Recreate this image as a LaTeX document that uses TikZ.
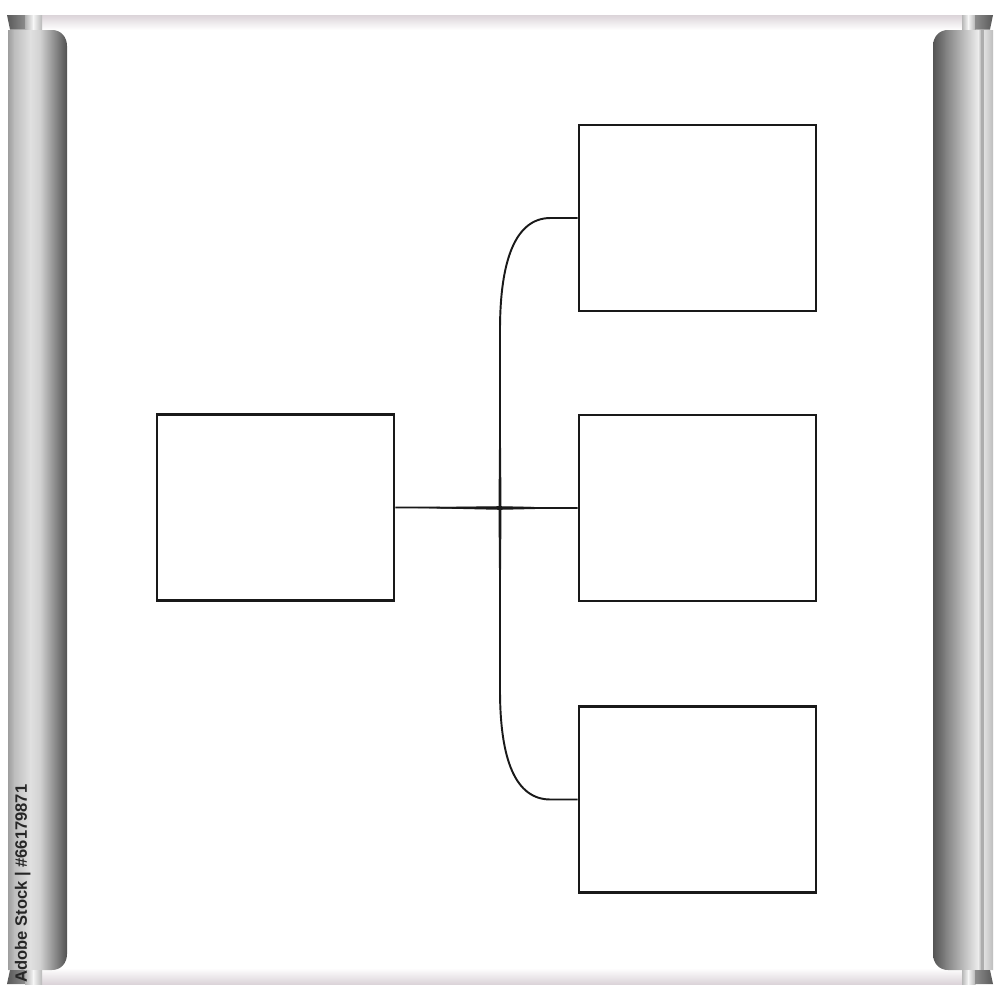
\documentclass[tikz,border=0pt]{standalone}
\usepackage{fontspec}
\newfontfamily\idfont{Liberation Sans}
\usetikzlibrary{calc}
\definecolor{sheetedge}{rgb}{0.86,0.83,0.85}
\begin{document}
\begin{tikzpicture}[x=0.01cm,y=-0.01cm,
  flowbox/.style={draw=black!90, line width=0.8pt, fill=white, minimum width=2.37cm, minimum height=1.86cm, inner sep=0pt},
  link/.style={line width=0.55pt, draw=black!90},
  strip/.style={draw=none}]
\fill[white] (0,0) rectangle (1000,1000);
\useasboundingbox (0,0) rectangle (1000,1000);

% sheet edges
\shade[top color=sheetedge, bottom color=white] (40,15) rectangle (962,30);
\shade[top color=white, bottom color=sheetedge] (40,968) rectangle (962,984);

% left roller
\begin{scope}
\clip (8,30) -- (52,30) .. controls (61,30) and (67,37) .. (67,46) -- (67,954) .. controls (67,963) and (61,970) .. (52,970) -- (8,970) -- cycle;
\shade[left color={rgb,1:red,0.62;green,0.62;blue,0.62}, right color={rgb,1:red,0.74;green,0.74;blue,0.74}] (8,30) rectangle (14.5,970);
\shade[left color={rgb,1:red,0.74;green,0.74;blue,0.74}, right color={rgb,1:red,0.88;green,0.88;blue,0.88}] (14,30) rectangle (30.5,970);
\shade[left color={rgb,1:red,0.88;green,0.88;blue,0.88}, right color={rgb,1:red,0.82;green,0.82;blue,0.82}] (30,30) rectangle (40.5,970);
\shade[left color={rgb,1:red,0.82;green,0.82;blue,0.82}, right color={rgb,1:red,0.32;green,0.32;blue,0.32}] (40,30) rectangle (67,970);
\end{scope}
% left caps
\shade[left color={rgb,1:red,0.35;green,0.35;blue,0.35}, right color={rgb,1:red,0.55;green,0.55;blue,0.55}] (7,15) -- (25.5,15) -- (25.5,29.5) -- (10,29.5) -- cycle;
\shade[left color={rgb,1:red,0.7;green,0.7;blue,0.7}, right color={rgb,1:red,0.97;green,0.97;blue,0.97}] (25,15) rectangle (33.5,29.5);
\shade[left color={rgb,1:red,0.97;green,0.97;blue,0.97}, right color={rgb,1:red,0.72;green,0.72;blue,0.72}] (33,15) rectangle (42,29.5);
\shade[left color={rgb,1:red,0.35;green,0.35;blue,0.35}, right color={rgb,1:red,0.55;green,0.55;blue,0.55}] (10,970) -- (25.5,970) -- (25.5,984) -- (7,984) -- cycle;
\shade[left color={rgb,1:red,0.7;green,0.7;blue,0.7}, right color={rgb,1:red,0.97;green,0.97;blue,0.97}] (25,970) rectangle (33.5,984);
\shade[left color={rgb,1:red,0.97;green,0.97;blue,0.97}, right color={rgb,1:red,0.72;green,0.72;blue,0.72}] (33,970) rectangle (42,984);

% right roller
\begin{scope}
\clip (993,30) -- (948,30) .. controls (939,30) and (933,37) .. (933,46) -- (933,954) .. controls (933,963) and (939,970) .. (948,970) -- (993,970) -- cycle;
\shade[left color={rgb,1:red,0.33;green,0.33;blue,0.33}, right color={rgb,1:red,0.5;green,0.5;blue,0.5}] (933,30) rectangle (945.5,970);
\shade[left color={rgb,1:red,0.5;green,0.5;blue,0.5}, right color={rgb,1:red,0.93;green,0.93;blue,0.93}] (945,30) rectangle (978.5,970);
\shade[left color={rgb,1:red,0.93;green,0.93;blue,0.93}, right color={rgb,1:red,0.68;green,0.68;blue,0.68}] (978,30) rectangle (981.5,970);
\fill[black!32] (981,30) rectangle (984.5,970);
\shade[left color={rgb,1:red,0.88;green,0.88;blue,0.88}, right color={rgb,1:red,0.74;green,0.74;blue,0.74}] (984,30) rectangle (993,970);
\end{scope}
% right caps
\shade[left color={rgb,1:red,0.72;green,0.72;blue,0.72}, right color={rgb,1:red,0.97;green,0.97;blue,0.97}] (962,15) rectangle (968.5,29.5);
\shade[left color={rgb,1:red,0.97;green,0.97;blue,0.97}, right color={rgb,1:red,0.7;green,0.7;blue,0.7}] (968,15) rectangle (975.5,29.5);
\shade[left color={rgb,1:red,0.55;green,0.55;blue,0.55}, right color={rgb,1:red,0.35;green,0.35;blue,0.35}] (975,15) -- (993,15) -- (990,29.5) -- (975,29.5) -- cycle;
\shade[left color={rgb,1:red,0.72;green,0.72;blue,0.72}, right color={rgb,1:red,0.97;green,0.97;blue,0.97}] (962,970) rectangle (968.5,984);
\shade[left color={rgb,1:red,0.97;green,0.97;blue,0.97}, right color={rgb,1:red,0.7;green,0.7;blue,0.7}] (968,970) rectangle (975.5,984);
\shade[left color={rgb,1:red,0.55;green,0.55;blue,0.55}, right color={rgb,1:red,0.35;green,0.35;blue,0.35}] (975,970) -- (990,970) -- (993,984) -- (975,984) -- cycle;

% id text on the left roller
\node[rotate=90, anchor=base west, inner sep=0pt, text=black!85, font=\idfont\bfseries\fontsize{4.7}{6}\selectfont] (stockid) at (27,983) {Adobe Stock | \#66179871};

% boxes
\node[flowbox] (src) at (275.5,507.5) {};
\node[flowbox] (t1) at (697.5,218) {};
\node[flowbox] (t2) at (697.5,508) {};
\node[flowbox] (t3) at (697.5,799.5) {};

% connectors
\coordinate (bt) at (500,330);
\coordinate (bb) at (500,690);
\coordinate (cross) at (bt |- t2.west);
\draw[link] (t1.west) -- ($(t1.west)+(-27,0)$) .. controls ($(t1.west)+(-62,0)$) and ($(bt)+(0,-70)$) .. (bt) -- (bb) .. controls ($(bb)+(0,70)$) and ($(t3.west)+(-62,0)$) .. ($(t3.west)+(-27,0)$) -- (t3.west);
\fill[black!90] (bt) -- ($(cross)+(-1.5,0)$) -- (bb) -- ($(cross)+(1.5,0)$) -- cycle;
\draw[link, line width=0.5pt] (src.east) -- (t2.west);
\fill[black!90] (src.east) -- ($(cross)+(0,-1.8)$) -- (t2.west) -- ($(cross)+(0,1.8)$) -- cycle;
\end{tikzpicture}
\end{document}
